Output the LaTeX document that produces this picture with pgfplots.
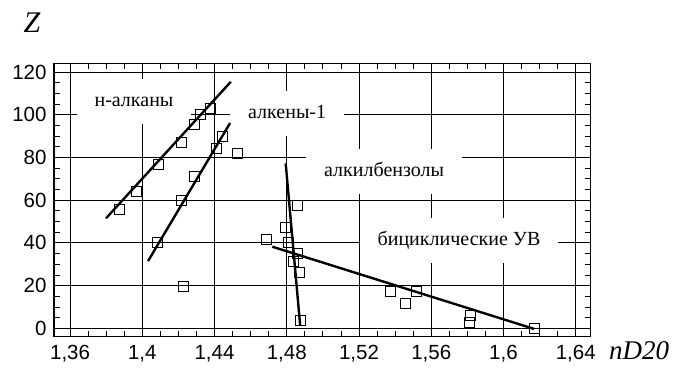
\documentclass[border=0pt]{standalone}
\usepackage{fontspec}
\setmainfont{Liberation Serif}
\newfontfamily\tickfont{Liberation Sans}
\usepackage{pgfplots}
\pgfplotsset{compat=1.18}
\tikzset{lab/.style={fill=white, inner xsep=18pt, inner ysep=13.5pt, text height=14pt, text depth=4pt, font=\fontsize{20}{20}\selectfont}}

\begin{document}
\begin{tikzpicture}[x=1pt,y=1pt]
\useasboundingbox (-54,-30.3) rectangle (623,336.7);
\begin{axis}[
  at={(0,0)}, anchor=south west,
  scale only axis, width=536.7pt, height=273.4pt,
  xmin=1.3511, xmax=1.6483, ymin=-3.93, ymax=124.07,
  xtick={1.36,1.40,1.44,1.48,1.52,1.56,1.60,1.64},
  xticklabels={{1,36},{1,4},{1,44},{1,48},{1,52},{1,56},{1,6},{1,64}},
  ytick={0,20,40,60,80,100,120},
  minor x tick num=3, minor y tick num=3,
  tick align=inside, major tick length=0pt, minor tick length=6pt,
  xtick pos=both, ytick pos=both,
  xticklabel pos=bottom, yticklabel pos=left,
  xmajorgrids, ymajorgrids,
  grid style={black, line width=0.8pt},
  axis line style={line width=1.2pt},
  minor tick style={black, line width=0.8pt},
  ticklabel style={font=\tickfont\fontsize{20.5}{20.5}\selectfont},
  yticklabel style={xshift=-4pt},
  xticklabel style={yshift=-5pt},
  /pgf/number format/assume math mode=true,
]
% labels with white boxes
\node[lab] at (axis cs:1.3954,106.2) {н-алканы};
\node[lab] at (axis cs:1.4802,100.8) {алкены-1};
\node[lab] at (axis cs:1.5339,73.4) {алкилбензолы};
\node[lab] at (axis cs:1.5754,41.1) {бициклические УВ};

% regression lines
\addplot[black, line width=2.4pt] coordinates {(1.3799,51.5) (1.4490,115.4)};
\addplot[black, line width=2.4pt] coordinates {(1.4032,31.5) (1.4486,96.1)};
\addplot[black, line width=2.4pt] coordinates {(1.4794,77.2) (1.4874,1.5)};
\addplot[black, line width=2.4pt] coordinates {(1.4720,38.2) (1.6170,-0.3)};

% n-alkanes
\addplot[only marks, mark=square, mark size=5pt, mark options={black, line width=0.8pt}] coordinates {
(1.3873,55.7) (1.3970,64.0) (1.4090,76.8) (1.4219,87.2) (1.4290,95.6) (1.4320,100.0) (1.4379,102.8)
};
% alkenes-1
\addplot[only marks, mark=square, mark size=5pt, mark options={black, line width=0.8pt}] coordinates {
(1.4086,40.1) (1.4216,59.7) (1.4290,71.3) (1.4409,84.3) (1.4446,90.0) (1.4527,81.9) (1.4226,19.5)
};
% alkylbenzenes
\addplot[only marks, mark=square, mark size=5pt, mark options={black, line width=0.8pt}] coordinates {
(1.4859,57.4) (1.4794,47.1) (1.4807,40.1) (1.4861,35.1) (1.4839,31.2) (1.4869,26.0) (1.4874,3.6) (1.4685,41.5)
};
% bicyclic
\addplot[only marks, mark=square, mark size=5pt, mark options={black, line width=0.8pt}] coordinates {
(1.5376,17.3) (1.5459,11.7) (1.5520,17.5) (1.5819,6.1) (1.5811,2.8) (1.6170,0.0)
};
\end{axis}
\node[font=\itshape\fontsize{30}{30}\selectfont] at (-22,314.2) {Z};
\node[font=\itshape\fontsize{27}{27}\selectfont] at (585,-14.3) {nD20};
\end{tikzpicture}
\end{document}
